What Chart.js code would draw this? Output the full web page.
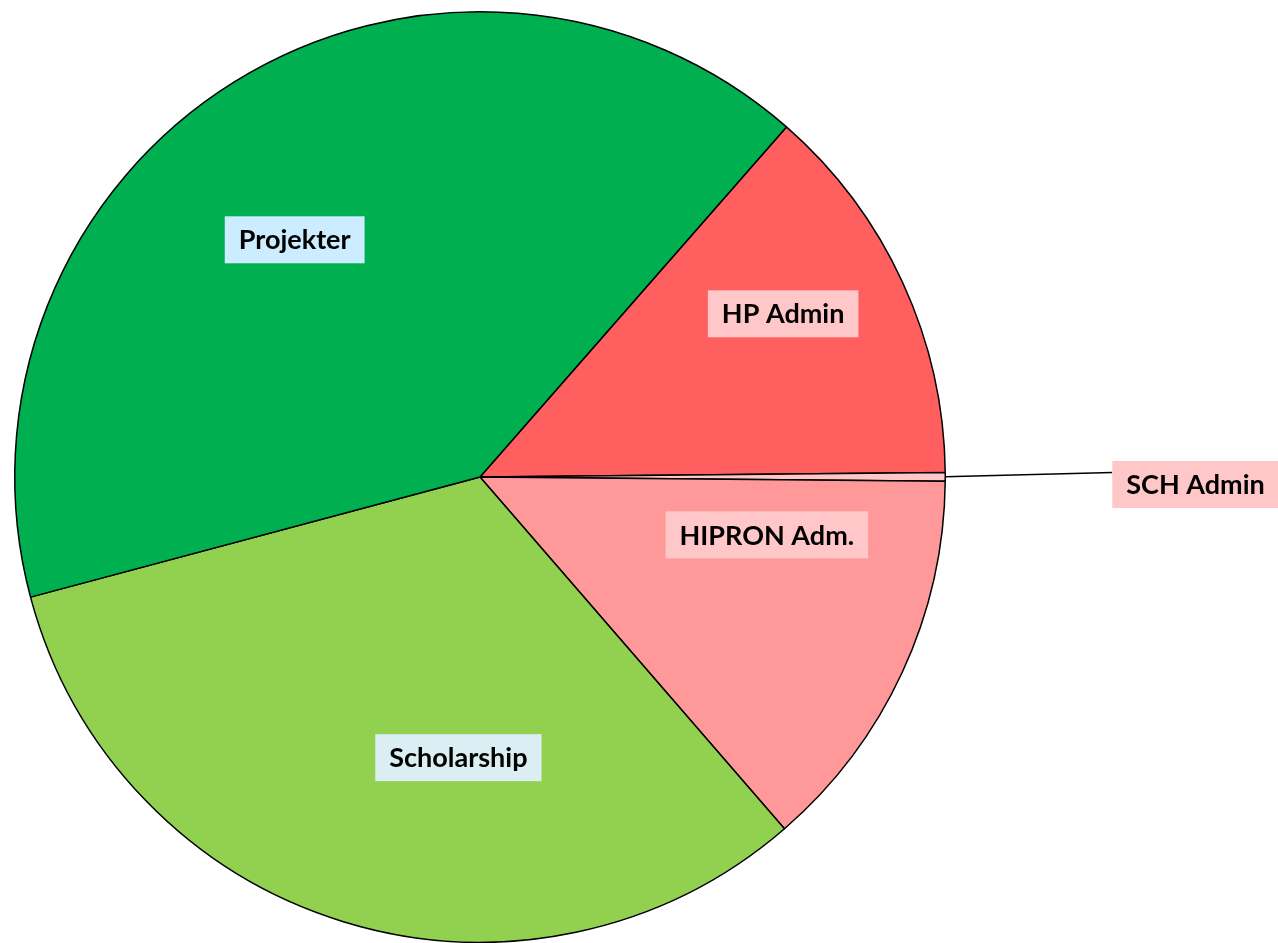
<!DOCTYPE html>
<html lang="da">
<head>
    <meta charset="UTF-8">
    <title>Fordeling</title>
    <script src="https://cdn.jsdelivr.net/npm/chart.js"></script>
    <style>
        body {
            margin: 0;
            background-color: #ffffff;
        }

        .chart-container {
            position: relative;
            width: 1278px;
            height: 943px;
        }
    </style>
</head>
<body>
    <div class="chart-container">
        <canvas id="pieChart"></canvas>
    </div>

    <script>
        // Data (shares in %), clockwise from the HP Admin slice
        const labels = ['HP Admin', 'SCH Admin', 'HIPRON Adm.', 'Scholarship', 'Projekter'];
        const shares = [13.4, 0.3, 13.5, 32.2, 40.6];

        // Styling
        const sliceColors = ['#FF5F5F', '#FFC7C7', '#FF9999', '#92D050', '#00B050'];
        const labelBoxColors = ['#FFC7C7', '#FFC7C7', '#FFC7C7', '#DAEEF3', '#CCECFF'];
        // Label placement: angle (deg, canvas) and distance as fraction of radius
        const labelAngles = [-28.3, 0.6, 11.4, 94.4, -128.0];
        const labelDist = [0.74, 1.538, 0.629, 0.605, 0.647];
        const leaderLine = [false, true, false, false, false];

        const labelFont = 'bold 27px Lato, "Open Sans", sans-serif';

        // Draws the boxed labels on top of the slices
        const boxLabels = {
            id: 'boxLabels',
            afterDatasetsDraw(chart) {
                const c = chart.ctx;
                const arcs = chart.getDatasetMeta(0).data;
                c.save();
                c.font = labelFont;
                c.textAlign = 'center';
                c.textBaseline = 'middle';
                arcs.forEach((arc, i) => {
                    const r = arc.outerRadius;
                    const a = labelAngles[i] * Math.PI / 180;
                    const x = arc.x + Math.cos(a) * r * labelDist[i];
                    const y = arc.y + Math.sin(a) * r * labelDist[i];
                    const w = c.measureText(labels[i]).width + 28;
                    const h = 47;

                    if (leaderLine[i]) {
                        const mid = (arc.startAngle + arc.endAngle) / 2;
                        c.beginPath();
                        c.moveTo(arc.x + Math.cos(mid) * r, arc.y + Math.sin(mid) * r);
                        c.lineTo(x - w / 2, y - 12);
                        c.strokeStyle = '#000000';
                        c.lineWidth = 1.5;
                        c.stroke();
                    }

                    c.fillStyle = labelBoxColors[i];
                    c.fillRect(x - w / 2, y - h / 2, w, h);
                    c.fillStyle = '#000000';
                    c.fillText(labels[i], x, y + 1);
                });
                c.restore();
            }
        };

        const ctx = document.getElementById('pieChart').getContext('2d');
        const chart = new Chart(ctx, {
            type: 'pie',
            data: {
                labels: labels,
                datasets: [{
                    data: shares,
                    backgroundColor: sliceColors,
                    borderColor: '#000000',
                    borderWidth: 1.5
                }]
            },
            options: {
                responsive: true,
                maintainAspectRatio: false,
                animation: false,
                rotation: 41.2,
                layout: {
                    padding: { left: 13.5, right: 331.5, top: 11, bottom: 0 }
                },
                plugins: {
                    legend: { display: false },
                    tooltip: { enabled: false }
                }
            },
            plugins: [boxLabels]
        });
    </script>
</body>
</html>
